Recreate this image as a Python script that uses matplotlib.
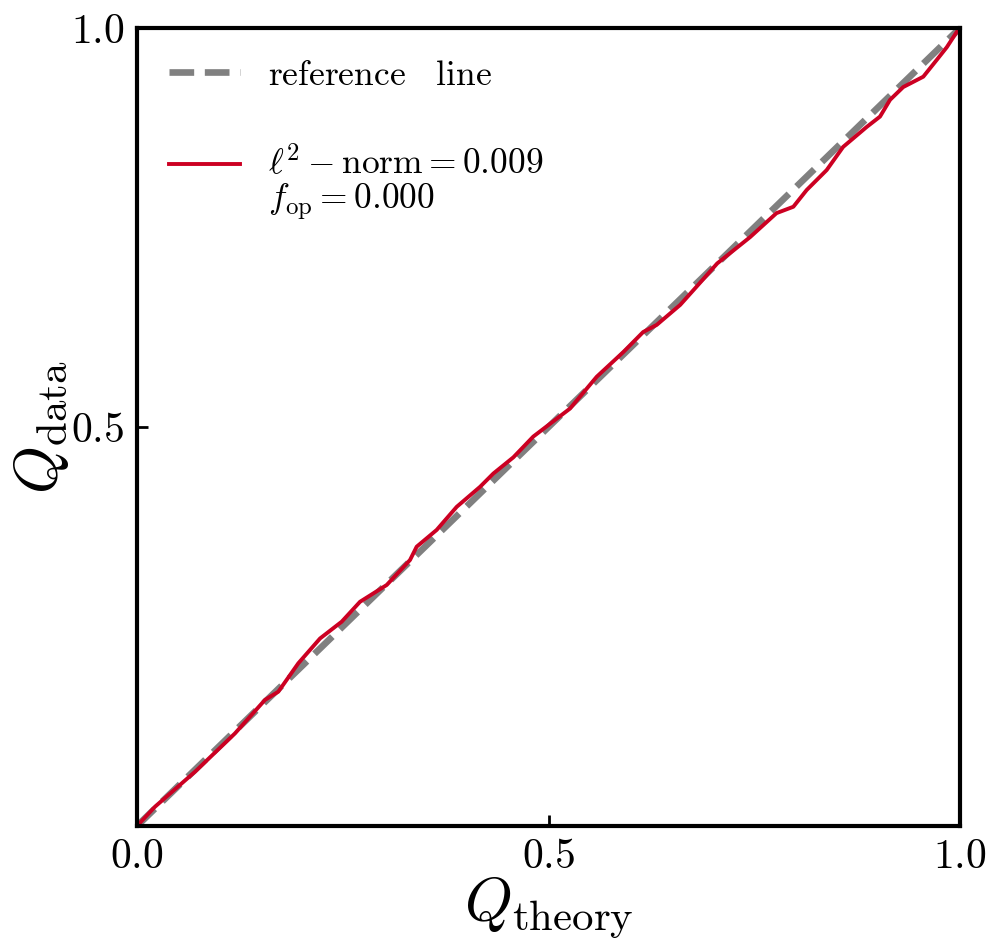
import numpy as np
import matplotlib
matplotlib.use("Agg")
import matplotlib.pyplot as plt
from matplotlib.legend_handler import HandlerLine2D

plt.rcParams["font.family"] = "serif"
plt.rcParams["font.serif"] = ["cmr10", "DejaVu Serif"]
plt.rcParams["mathtext.fontset"] = "cm"
plt.rcParams["axes.formatter.use_mathtext"] = True

# quantiles
q_theory = np.array([0.0, 0.0219, 0.0705, 0.119, 0.1555, 0.1717, 0.196, 0.2224,
                     0.2487, 0.271, 0.3034, 0.3317, 0.3398, 0.3641, 0.3885, 0.4168,
                     0.433, 0.4573, 0.4815, 0.526, 0.5586, 0.591, 0.615, 0.6315,
                     0.660, 0.680, 0.705, 0.745, 0.777, 0.7975, 0.8137, 0.838,
                     0.858, 0.8866, 0.9028, 0.915, 0.931, 0.9554, 0.9717, 0.984,
                     0.996, 1.0])
q_data = np.array([0.0, 0.0242, 0.068, 0.116, 0.158, 0.1683, 0.2039, 0.235,
                   0.256, 0.281, 0.302, 0.3333, 0.350, 0.371, 0.400, 0.425,
                   0.4417, 0.462, 0.488, 0.523, 0.563, 0.594, 0.619, 0.628,
                   0.653, 0.676, 0.705, 0.738, 0.768, 0.776, 0.797, 0.822,
                   0.851, 0.876, 0.889, 0.910, 0.926, 0.939, 0.960, 0.976,
                   0.995, 1.0])
ref_line = [0.0, 1.0]
l2_norm = 0.009
f_op = 0.000


class TopLineHandler(HandlerLine2D):
    # put the handle next to the first line of a two-line label
    def create_artists(self, legend, orig_handle, xdescent, ydescent,
                       width, height, fontsize, trans):
        arts = super().create_artists(legend, orig_handle, xdescent, ydescent,
                                      width, height, fontsize, trans)
        for a in arts:
            a.set_ydata(np.asarray(a.get_ydata()) + 0.55 * fontsize)
        return arts


fig = plt.figure(figsize=(9.9, 9.4), dpi=100)
ax = fig.add_axes([0.1384, 0.1213, 0.8313, 0.8489])

ax.plot(ref_line, ref_line, "--", color="gray", lw=4.8,
        label=r"$\mathrm{reference}\quad\mathrm{line}$")
red, = ax.plot(q_theory, q_data, color="#cc0022", lw=2.8,
               label=r"$\ell^2-\mathrm{norm}=%.3f$" % l2_norm + "\n"
               + r"$f_{\mathrm{op}}=%.3f$" % f_op)

ax.set_xlim(0, 1)
ax.set_ylim(0, 1)
ax.set_xticks([0, 0.5, 1.0])
ax.set_yticks([0.5, 1.0])
ax.tick_params(direction="in", length=8, width=2, labelsize=30, pad=9)
for s in ax.spines.values():
    s.set_linewidth(3)

ax.set_xlabel(r"$Q_{\mathrm{theory}}$", fontsize=44, labelpad=0)
ax.set_ylabel(r"$Q_{\mathrm{data}}$", fontsize=44, labelpad=0)

leg = ax.legend(loc="upper left", frameon=False, fontsize=25.5, labelspacing=1.5,
                handler_map={red: TopLineHandler()})
for t in leg.get_texts():
    t.set_linespacing(1.05)

fig.savefig("out.png", dpi=100)
